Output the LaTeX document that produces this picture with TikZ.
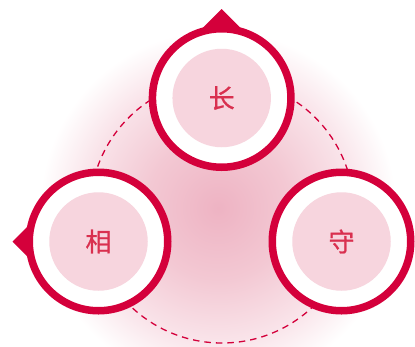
\documentclass[tikz,border=0pt]{standalone}
\usepackage{fontspec}
\newfontfamily\cjk[FakeBold=0.9]{Noto Sans CJK SC}
\definecolor{ringc}{HTML}{D4003B}
\definecolor{discc}{HTML}{F7D5DE}
\definecolor{textc}{HTML}{D9304F}
\definecolor{bgA}{HTML}{EEB3C3}
\definecolor{bgB}{HTML}{F3C8D3}
\definecolor{bgC}{HTML}{F9E3E9}
\pgfdeclareradialshading{bgshade}{\pgfpoint{0bp}{0bp}}{color(0bp)=(bgA); color(10bp)=(bgB); color(18.5bp)=(bgC); color(25bp)=(white); color(50bp)=(white)}
\tikzset{
  ring/.style={circle, draw=ringc, line width=7.5pt, fill=white, minimum size=138.5pt, inner sep=0pt},
  disc/.style={circle, fill=discc, minimum size=98.5pt, inner sep=0pt, text=textc, font=\cjk\fontsize{26}{26}\selectfont},
  marker/.style={fill=ringc},
  dashring/.style={draw=ringc, line width=1.3pt, dash pattern=on 6.5pt off 5pt}
}
\begin{document}
\begin{tikzpicture}[x=1pt,y=-1pt]
\useasboundingbox (0,0) rectangle (415,346);
\begin{scope}
  \clip (0,0) rectangle (415,346);
  \shade[shading=bgshade] (218,208) circle[radius=178];
\end{scope}
\coordinate (dc) at (222,211);
\draw[dashring] (dc) circle[radius=132];
% markers
\coordinate (tapex) at (221.7,9);
\coordinate (lapex) at (12.5,241.5);
\fill[marker] (tapex) -- (199.7,31) -- (243.7,31) -- cycle;
\fill[marker] (lapex) -- (34.5,219.5) -- (34.5,263.5) -- cycle;
% circles
\node[ring] (t) at (221.7,98) {};
\node[ring] (l) at (98.5,241.5) {};
\node[ring] (r) at (341.5,241.5) {};
\node[disc] (tc) at (t) {长};
\node[disc] (lc) at (l) {相};
\node[disc] (rc) at (r) {守};
\end{tikzpicture}
\end{document}
